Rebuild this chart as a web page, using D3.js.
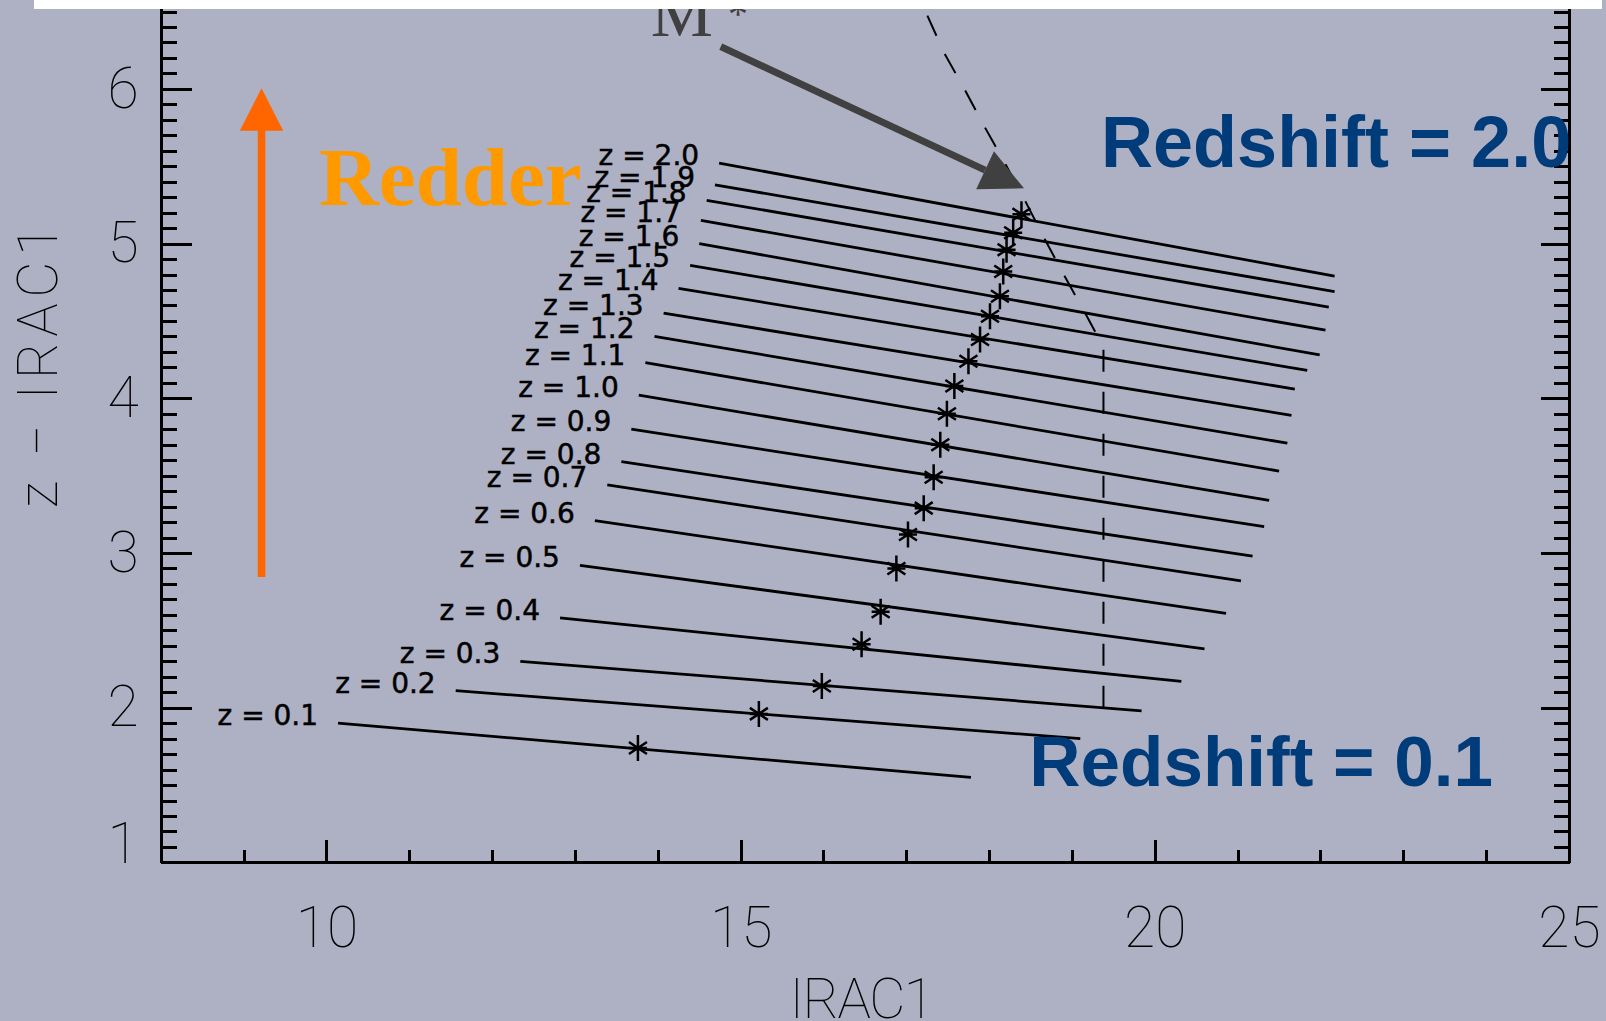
<!DOCTYPE html>
<html>
<head>
<meta charset="utf-8">
<script src="https://cdn.jsdelivr.net/npm/d3@7"></script>
<style>
  body { margin: 0; background: #aeb1c4; }
  svg { display: block; }
</style>
</head>
<body>
<div id="chart"></div>
<script>
// redshift tracks: one line per redshift, star = M* position
const redshifts = ['0.1', '0.2', '0.3', '0.4', '0.5', '0.6', '0.7', '0.8', '0.9', '1.0',
                   '1.1', '1.2', '1.3', '1.4', '1.5', '1.6', '1.7', '1.8', '1.9', '2.0'];
const startX = [10.14, 11.56, 12.34, 12.82, 13.06, 13.24, 13.39, 13.56, 13.68, 13.77,
                13.85, 13.96, 14.07, 14.25, 14.39, 14.50, 14.52, 14.59, 14.69, 14.74];
const startY = [1.90, 2.11, 2.30, 2.58, 2.92, 3.21, 3.44, 3.59, 3.80, 4.02,
                4.23, 4.40, 4.55, 4.71, 4.86, 5.00, 5.15, 5.28, 5.38, 5.52];
const endX = [17.78, 19.10, 19.84, 20.32, 20.60, 20.86, 21.04, 21.18, 21.32, 21.38,
              21.50, 21.60, 21.65, 21.69, 21.84, 21.99, 22.06, 22.10, 22.17, 22.17];
const endY = [1.55, 1.80, 1.98, 2.17, 2.38, 2.61, 2.82, 2.98, 3.17, 3.34,
              3.53, 3.71, 3.89, 4.06, 4.18, 4.28, 4.44, 4.59, 4.69, 4.79];
const starX = [13.76, 15.22, 15.98, 16.46, 16.69, 16.88, 17.02, 17.21, 17.33, 17.41,
               17.49, 17.58, 17.75, 17.89, 18.01, 18.13, 18.17, 18.21, 18.29, 18.39];
const starY = [1.74, 1.96, 2.14, 2.41, 2.62, 2.90, 3.12, 3.29, 3.49, 3.70,
               3.90, 4.08, 4.24, 4.38, 4.53, 4.66, 4.82, 4.96, 5.07, 5.19];

// dashed limit curve
const limitX = [17.17, 17.24, 17.46, 17.70, 17.95, 18.19, 18.45, 18.67, 18.91, 19.16, 19.38, 19.38];
const limitY = [6.60, 6.49, 6.23, 6.00, 5.75, 5.52, 5.26, 5.03, 4.79, 4.55, 4.33, 2.00];

const xTicks = [10, 15, 20, 25];
const xMinor = [9, 11, 12, 13, 14, 16, 17, 18, 19, 21, 22, 23, 24];
const yTicks = [1, 2, 3, 4, 5, 6];

const W = 1606, H = 1021;
const thinFont = 'Roboto, "DejaVu Sans", sans-serif';

const svg = d3.select('#chart').append('svg')
  .attr('width', W)
  .attr('height', H);

svg.append('rect')
  .attr('width', W)
  .attr('height', H)
  .attr('fill', '#aeb1c4');

const x = d3.scaleLinear().domain([8, 25]).range([160.8, 1569]);
const y = d3.scaleLinear().domain([1, 7]).range([862.4, -65.8]);

const yMinor = d3.range(10, 70).map(v => v / 10).filter(v => v % 1 !== 0);

function styleAxis(g) {
  g.attr('color', '#000')
    .attr('font-family', thinFont)
    .attr('font-weight', 100)
    .attr('font-size', 57);
  g.selectAll('path, line').attr('stroke-width', 3).attr('shape-rendering', 'crispEdges');
}

// left axis
svg.append('g')
  .attr('transform', `translate(${x(8)},0)`)
  .call(d3.axisLeft(y).tickValues(yMinor).tickSizeInner(-16).tickSizeOuter(0).tickFormat(''))
  .call(styleAxis);
svg.append('g')
  .attr('transform', `translate(${x(8)},0)`)
  .call(d3.axisLeft(y).tickValues(yTicks).tickSizeInner(-31).tickSizeOuter(0).tickPadding(22).tickFormat(d3.format('d')))
  .call(styleAxis)
  .selectAll('text')
  .filter(d => d === 1)
  .attr('dy', '0em');

// right axis
svg.append('g')
  .attr('transform', `translate(${x(25)},0)`)
  .call(d3.axisRight(y).tickValues(yMinor).tickSizeInner(-15).tickSizeOuter(0).tickFormat(''))
  .call(styleAxis);
svg.append('g')
  .attr('transform', `translate(${x(25)},0)`)
  .call(d3.axisRight(y).tickValues(yTicks).tickSizeInner(-28).tickSizeOuter(0).tickFormat(''))
  .call(styleAxis);

// bottom axis
svg.append('g')
  .attr('transform', `translate(0,${y(1)})`)
  .call(d3.axisBottom(x).tickValues(xMinor).tickSizeInner(-12).tickSizeOuter(0).tickFormat(''))
  .call(styleAxis);
svg.append('g')
  .attr('transform', `translate(0,${y(1)})`)
  .call(d3.axisBottom(x).tickValues(xTicks).tickSizeInner(-22).tickSizeOuter(0).tickPadding(44).tickFormat(d3.format('d')))
  .call(styleAxis);

// axis titles
svg.append('text')
  .attr('x', 862)
  .attr('y', 1018)
  .attr('text-anchor', 'middle')
  .attr('font-family', thinFont)
  .attr('font-weight', 100)
  .attr('font-size', 56)
  .attr('textLength', 145)
  .attr('lengthAdjust', 'spacing')
  .text('IRAC1');

svg.append('text')
  .attr('transform', 'translate(57,366.5) rotate(-90)')
  .attr('text-anchor', 'middle')
  .attr('font-family', thinFont)
  .attr('font-weight', 100)
  .attr('font-size', 56)
  .attr('textLength', 283)
  .attr('lengthAdjust', 'spacing')
  .text('z \u2212 IRAC1');

// redshift tracks
const tracks = redshifts.map((z, i) => ({
  z,
  pts: [[startX[i], startY[i]], [endX[i], endY[i]]],
  star: [starX[i], starY[i]]
}));

const line = d3.line().x(d => x(d[0])).y(d => y(d[1]));

svg.append('g')
  .selectAll('path')
  .data(tracks)
  .enter()
  .append('path')
  .attr('d', d => line(d.pts))
  .attr('fill', 'none')
  .attr('stroke', '#000')
  .attr('stroke-width', 2.8);

svg.append('g')
  .selectAll('text')
  .data(tracks)
  .enter()
  .append('text')
  .attr('x', d => x(d.pts[0][0]) - 20)
  .attr('y', d => y(d.pts[0][1]) + 2)
  .attr('text-anchor', 'end')
  .attr('font-family', '"DejaVu Sans", sans-serif')
  .attr('font-size', 28)
  .attr('stroke', '#000')
  .attr('stroke-width', 0.5)
  .text(d => `z = ${d.z}`);

// IDL style asterisk
const asterisk = {
  draw(ctx) {
    ctx.moveTo(0, -13); ctx.lineTo(0, 13);
    ctx.moveTo(-9, 0); ctx.lineTo(9, 0);
    ctx.moveTo(-9, -6); ctx.lineTo(9, 6);
    ctx.moveTo(-9, 6); ctx.lineTo(9, -6);
  }
};

svg.append('g')
  .selectAll('path')
  .data(tracks)
  .enter()
  .append('path')
  .attr('transform', d => `translate(${x(d.star[0])},${y(d.star[1])})`)
  .attr('d', d3.symbol().type(asterisk))
  .attr('fill', 'none')
  .attr('stroke', '#000')
  .attr('stroke-width', 2.5);

// dashed limit curve, drawn from its bottom end so the dashes start there
svg.append('path')
  .datum(limitX.map((v, i) => [v, limitY[i]]).reverse())
  .attr('d', line)
  .attr('fill', 'none')
  .attr('stroke', '#000')
  .attr('stroke-width', 2)
  .attr('stroke-dasharray', '22,20');

// orange "redder" arrow
const ox = x(9.216), oBottom = y(2.845), oTip = y(6.004);
svg.append('rect')
  .attr('x', ox - 3.8)
  .attr('y', oTip + 40)
  .attr('width', 7.6)
  .attr('height', oBottom - oTip - 40)
  .attr('fill', '#ff6600');
svg.append('path')
  .attr('d', `M${ox},${oTip}L${ox + 21.7},${oTip + 42.4}L${ox - 21.7},${oTip + 42.4}Z`)
  .attr('fill', '#ff6600');

svg.append('text')
  .attr('x', x(9.909))
  .attr('y', y(5.25))
  .attr('font-family', '"Liberation Serif", "Times New Roman", serif')
  .attr('font-weight', 'bold')
  .attr('font-size', 83)
  .attr('fill', '#ff9900')
  .text('Redder');

// M* arrow
const sx = x(14.76), sy = y(6.273), tx = x(18.421), ty = y(5.357);
const len = Math.hypot(tx - sx, ty - sy);
const ux = (tx - sx) / len, uy = (ty - sy) / len;
const bx = tx - 43 * ux, by = ty - 43 * uy;
svg.append('line')
  .attr('x1', sx).attr('y1', sy)
  .attr('x2', bx).attr('y2', by)
  .attr('stroke', '#404040')
  .attr('stroke-width', 7);
svg.append('path')
  .attr('d', `M${tx},${ty}L${bx - 21 * uy},${by + 21 * ux}L${bx + 21 * uy},${by - 21 * ux}Z`)
  .attr('fill', '#404040');

svg.append('text')
  .attr('x', x(13.915))
  .attr('y', y(6.342))
  .attr('font-family', '"Liberation Serif", "Times New Roman", serif')
  .attr('font-size', 70)
  .attr('fill', '#404040')
  .text('M');
svg.append('text')
  .attr('x', 728)
  .attr('y', 27)
  .attr('font-family', '"Liberation Serif", "Times New Roman", serif')
  .attr('font-size', 40)
  .attr('fill', '#404040')
  .text('*');

// redshift annotations
svg.append('text')
  .attr('x', x(19.351))
  .attr('y', y(5.497))
  .attr('font-family', '"Liberation Sans", Arial, sans-serif')
  .attr('font-weight', 'bold')
  .attr('font-size', 72)
  .attr('fill', '#003b7a')
  .text('Redshift = 2.0');

svg.append('text')
  .attr('x', x(18.485))
  .attr('y', y(1.493))
  .attr('font-family', '"Liberation Sans", Arial, sans-serif')
  .attr('font-weight', 'bold')
  .attr('font-size', 71)
  .attr('fill', '#003b7a')
  .text('Redshift = 0.1');

// white slide band over the top edge
svg.append('rect')
  .attr('x', 34)
  .attr('y', 0)
  .attr('width', 1568)
  .attr('height', 9)
  .attr('fill', '#fff');
</script>
</body>
</html>
